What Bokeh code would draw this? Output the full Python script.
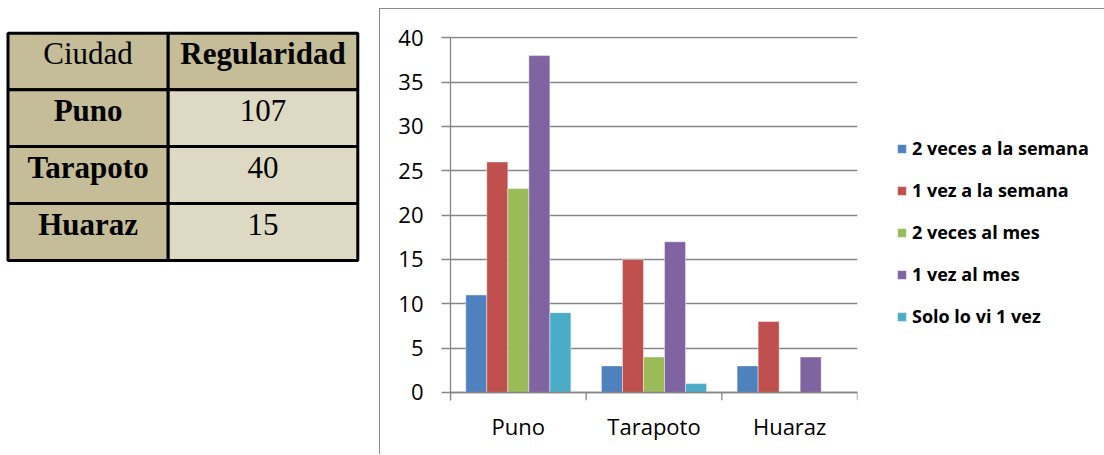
from bokeh.plotting import figure
from bokeh.models import ColumnDataSource, Range1d, FactorRange, FixedTicker, Legend, LegendItem, Span
from bokeh.layouts import row
from bokeh.transform import dodge
from bokeh.core.properties import value
from bokeh.embed import file_html
from bokeh.resources import INLINE

# ---------------- data ----------------
categories = ["Puno", "Tarapoto", "Huaraz"]
series_names = ["2 veces a la semana", "1 vez a la semana", "2 veces al mes",
                "1 vez al mes", "Solo lo vi 1 vez"]
dos_veces_semana = [11, 3, 3]
una_vez_semana = [26, 15, 8]
dos_veces_mes = [23, 4, 0]
una_vez_mes = [38, 17, 4]
solo_una_vez = [9, 1, 0]
series_colors = ["#4F81BD", "#C0504D", "#9BBB59", "#8064A2", "#4BACC6"]
y_ticks = [0, 5, 10, 15, 20, 25, 30, 35, 40]

table_header = ["Ciudad", "Regularidad"]
table_cities = ["Puno", "Tarapoto", "Huaraz"]
table_regularidad = [107, 40, 15]

FH = 363
BT, BB = 27, 55
GRAY = "#868686"

# ---------------- table ----------------
W_T = 379
t = figure(frame_width=W_T, frame_height=FH, x_range=Range1d(0, W_T),
           y_range=Range1d(BT + FH, BT),
           x_axis_type=None, y_axis_type=None, output_backend="svg",
           toolbar_location=None, min_border_left=0, min_border_right=0,
           min_border_top=BT, min_border_bottom=BB, outline_line_color=None)
t.grid.visible = False

xe = [7.5, 167.7, 357.3]
ye = [32.7, 89.3, 146.0, 203.0, 260.0]
TAN, LIGHT = "#C4BD97", "#DDD9C3"
rows_text = [table_header] + [[c, str(v)] for c, v in zip(table_cities, table_regularidad)]
rows_style = [["normal", "bold"]] + [["bold", "normal"] for _ in table_cities]
cl, cr, ct, cb, cf = [], [], [], [], []
tx, ty, tt, ts = [], [], [], []
for r in range(4):
    for k in range(2):
        cl.append(xe[k]); cr.append(xe[k + 1])
        ct.append(ye[r]); cb.append(ye[r + 1])
        cf.append(TAN if (r == 0 or k == 0) else LIGHT)
        tx.append((xe[k] + xe[k + 1]) / 2)
        ty.append(ye[r] + 20.5)
        tt.append(rows_text[r][k])
        ts.append(rows_style[r][k])
t.quad(left=cl, right=cr, top=ct, bottom=cb, fill_color=cf,
       line_color="black", line_width=3)
tsrc = ColumnDataSource(dict(x=tx, y=ty, text=tt, style=ts))
t.text(x="x", y="y", text="text", source=tsrc, text_font=value("Liberation Serif"),
       text_font_size="31px", text_font_style="style", text_align="center",
       text_baseline="alphabetic", text_color="black")

# ---------------- chart ----------------
c = figure(frame_width=406, frame_height=FH, x_range=FactorRange(*categories, range_padding=0),
           y_range=Range1d(-0.904, 40.15), output_backend="svg", toolbar_location=None,
           min_border_left=70, min_border_right=248, min_border_top=BT,
           min_border_bottom=BB, outline_line_color=None,
           styles={"border-left": "1.5px solid #8a8a8a", "border-top": "1.5px solid #8a8a8a",
                   "margin-top": "8px"})

src = ColumnDataSource(dict(cat=categories, s0=dos_veces_semana, s1=una_vez_semana,
                            s2=dos_veces_mes, s3=una_vez_mes, s4=solo_una_vez))
bw = 0.155
offsets = [-2 * bw, -bw, 0, bw, 2 * bw]
renderers = []
for i in range(5):
    r = c.vbar(x=dodge("cat", offsets[i], range=c.x_range), top="s%d" % i, width=bw,
               source=src, fill_color=series_colors[i], line_color="white",
               line_width=0.7, line_alpha=0.6)
    renderers.append(r)

# category boundary ticks
c.segment(x0=dodge("cat", -0.5, range=c.x_range), y0=0, x1=dodge("cat", -0.5, range=c.x_range),
          y1=c.y_range.start, source=src, line_color=GRAY, line_width=1.3)
c.segment(x0=dodge("cat", 0.5, range=c.x_range), y0=0, x1=dodge("cat", 0.5, range=c.x_range),
          y1=c.y_range.start, source=ColumnDataSource(dict(cat=[categories[-1]])),
          line_color=GRAY, line_width=1.3)
c.add_layout(Span(location=0, dimension="width", line_color=GRAY, line_width=1.3))

c.yaxis.ticker = FixedTicker(ticks=y_ticks)
c.yaxis.bounds = (c.y_range.start, 40)
c.yaxis.axis_line_color = GRAY
c.yaxis.axis_line_width = 1.3
c.yaxis.major_tick_line_color = GRAY
c.yaxis.major_tick_line_width = 1.3
c.yaxis.major_tick_out = 9
c.yaxis.major_tick_in = 0
c.yaxis.minor_tick_line_color = None
c.yaxis.major_label_standoff = 18
c.yaxis.major_label_text_font = "Open Sans"
c.yaxis.major_label_text_font_size = "22px"
c.yaxis.major_label_text_color = "black"

c.xaxis.axis_line_color = None
c.xaxis.major_tick_line_color = None
c.xaxis.major_tick_out = 0
c.xaxis.major_tick_in = 0
c.xaxis.major_label_standoff = 10
c.xaxis.major_label_text_font = "Open Sans"
c.xaxis.major_label_text_font_size = "22px"
c.xaxis.major_label_text_color = "black"

c.xgrid.grid_line_color = None
c.ygrid.ticker = FixedTicker(ticks=y_ticks)
c.ygrid.grid_line_color = GRAY
c.ygrid.grid_line_width = 1.3

legend = Legend(items=[LegendItem(label=n, renderers=[r]) for n, r in zip(series_names, renderers)],
                location=(39, 72), padding=0, margin=0, spacing=18,
                border_line_color=None, background_fill_alpha=0,
                glyph_width=11, glyph_height=11, label_standoff=5, label_height=20,
                label_text_font="Open Sans", label_text_font_style="bold",
                label_text_font_size="18px", label_text_color="black")
c.add_layout(legend, "right")

layout = row(t, c)
open("out.html", "w").write(file_html(layout, INLINE))
